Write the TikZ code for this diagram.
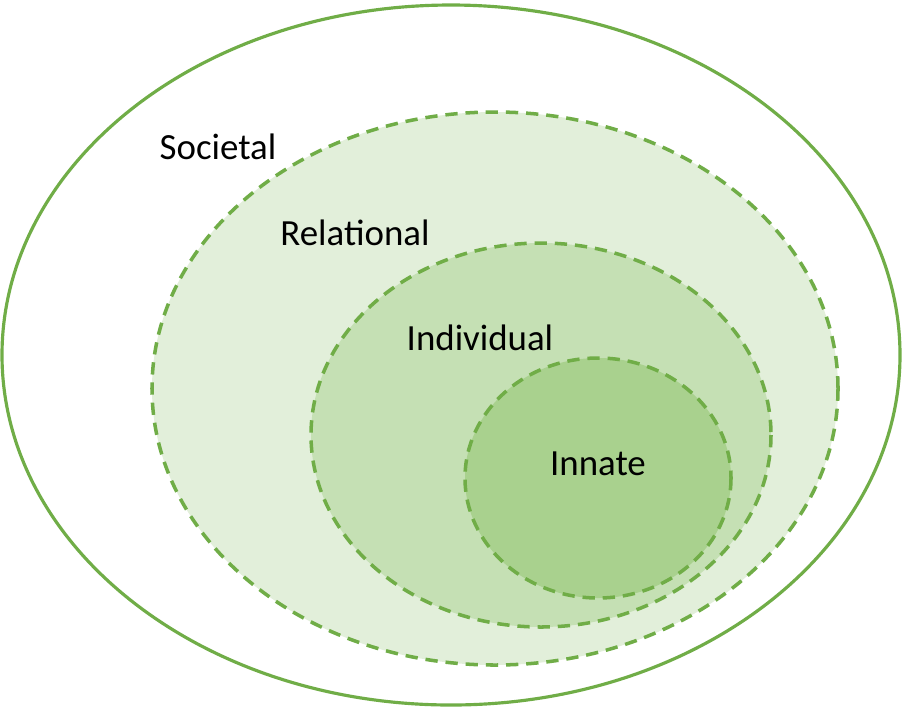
\documentclass[tikz,border=0pt]{standalone}
\usepackage{fontspec}
\setmainfont{Carlito}
\usepackage{tikz}
\usetikzlibrary{positioning}

\definecolor{ringgreen}{HTML}{70AD47}
\definecolor{fillone}{HTML}{E2EFDA}
\definecolor{filltwo}{HTML}{C5E0B4}
\definecolor{fillthree}{HTML}{A9D18E}

\begin{document}
\begin{tikzpicture}[
  x=0.02cm, y=-0.02cm,
  outerring/.style={draw=ringgreen, line width=1.8pt},
  innerring/.style={draw=ringgreen, line width=2pt, dash pattern=on 7pt off 4.5pt},
  label/.style={font=\fontsize{21}{24}\selectfont, text=black, inner sep=0pt}
]
\useasboundingbox (0,0) rectangle (912,708);

% Rings
\draw[outerring, fill=white] (451,355) ellipse [x radius=449, y radius=350];
\draw[innerring, fill=fillone] (495,388.5) ellipse [x radius=343, y radius=276.5];
\draw[innerring, fill=filltwo] (541,435) ellipse [x radius=230, y radius=192];
\draw[innerring, fill=fillthree] (598,478) ellipse [x radius=133, y radius=120];

% Labels
\node[label] (societal) at (218,147) {Societal};
\node[label] (relational) at (355,233) {Relational};
\node[label] (individual) at (480,338) {Individual};
\node[label] (innate) at (598,464) {Innate};

\end{tikzpicture}
\end{document}
